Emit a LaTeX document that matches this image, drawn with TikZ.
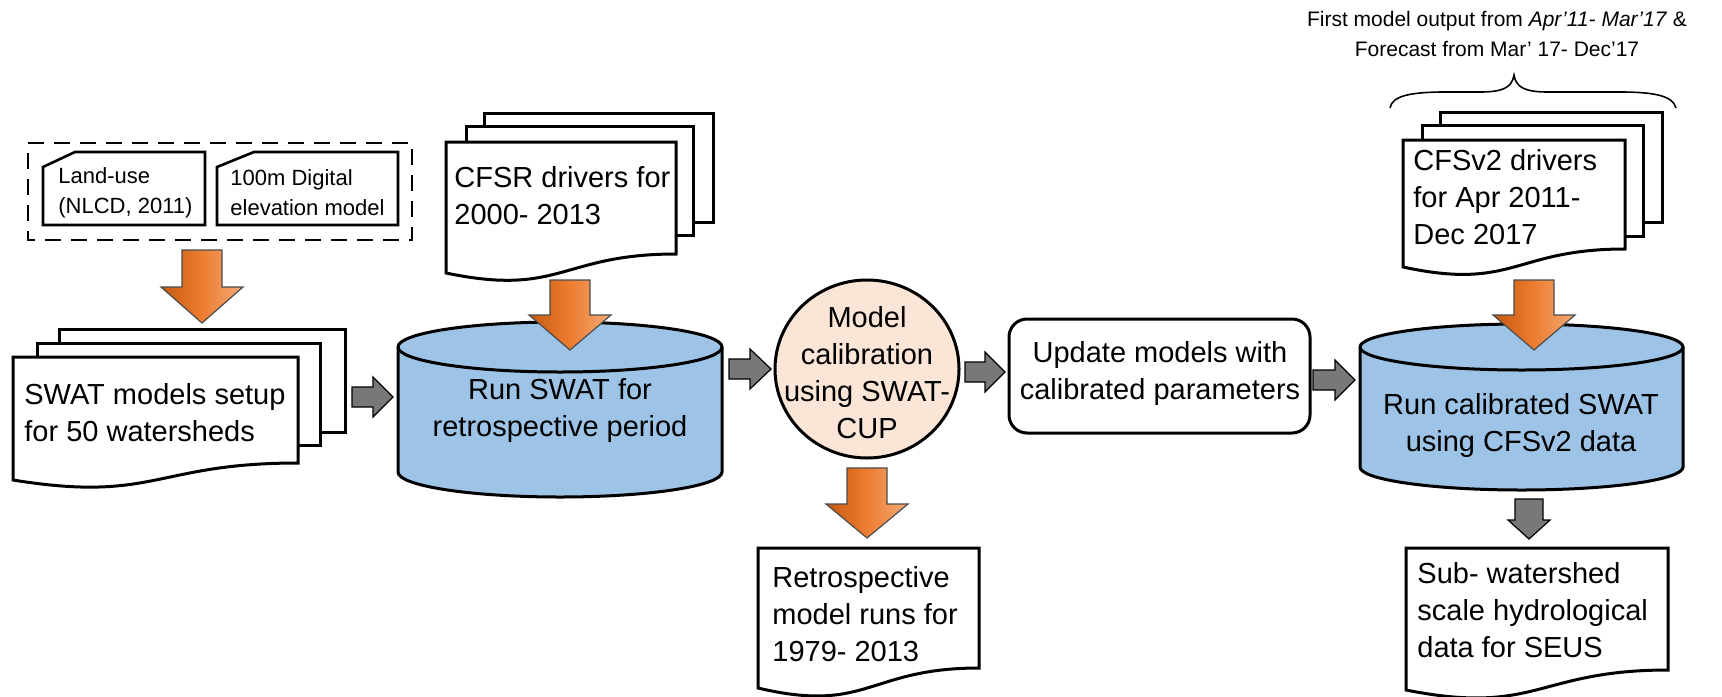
\documentclass[tikz,border=0pt]{standalone}
\usepackage{fontspec}
\setmainfont{Liberation Sans}
\usepackage{xcolor}
\usetikzlibrary{arrows.meta}
\definecolor{canblue}{RGB}{157,195,230}
\definecolor{peach}{RGB}{251,229,214}
\definecolor{arrgray}{RGB}{120,120,120}
\definecolor{orgdark}{RGB}{197,90,17}
\definecolor{orgmid}{RGB}{237,125,49}
\definecolor{orglight}{RGB}{244,170,120}

\begin{document}
\begin{tikzpicture}[x=0.5pt,y=0.5pt,yscale=-1,xscale=1,
  shapeline/.style={line width=1.5pt, line join=miter},
  grayarr/.style={draw=black, line width=0.6pt, fill=arrgray},
  orangearr/.style={draw=black!70, line width=0.6pt, left color=orgdark, right color=orglight, middle color=orgmid},
  doctext/.style={anchor=west, inner sep=0pt, align=left, font=\fontsize{14.5}{18.5}\selectfont},
  midtext/.style={inner sep=0pt, align=center, font=\fontsize{14.5}{18.5}\selectfont},
  smalltxt/.style={anchor=west, inner sep=0pt, align=left, font=\fontsize{11}{15}\selectfont}]
\useasboundingbox (0,0) rectangle (1722,696);

%Dashed group: inputs
\draw [line width=1pt, dash pattern={on 8pt off 5pt}] (28,143) -- (412,143) -- (412,240) -- (28,240) -- cycle ;
%Snip Single Corner Rectangle: land-use
\draw [line width=1.3pt, fill=white] (43,167) -- (75,152) -- (205,152) -- (205,225) -- (43,225) -- cycle ;
%Snip Single Corner Rectangle: elevation
\draw [line width=1.3pt, fill=white] (217,167) -- (254,152) -- (398,152) -- (398,225) -- (217,225) -- cycle ;

%Down Arrow: inputs to setup
\draw [orangearr] (182,250) -- (222,250) -- (222,287) -- (243,287) -- (202,323) -- (161,287) -- (182,287) -- cycle ;

%Flowchart: Multidocument (setup)
\draw [shapeline, fill=white] (59,329) rectangle (345,432) ;
\draw [shapeline, fill=white] (37,343) rectangle (320,445) ;
\draw [shapeline, fill=white] (13,357) -- (298,357) -- (298,463) .. controls (155,463) and (155,503) .. (13,480) -- cycle ;

%Right Arrow: setup to run
\draw [grayarr] (352,387) -- (373,387) -- (373,377) -- (393,397) -- (373,417) -- (373,407) -- (352,407) -- cycle ;

%Flowchart: Multidocument (CFSR)
\draw [shapeline, fill=white] (484,113) rectangle (713,222) ;
\draw [shapeline, fill=white] (466,126) rectangle (693,235) ;
\draw [shapeline, fill=white] (446,142) -- (676,142) -- (676,254) .. controls (561,254) and (561,297) .. (446,273) -- cycle ;

%Shape: Can (retrospective run)
\draw [shapeline, fill=canblue] (398,347) -- (398,472) arc [start angle=180, end angle=0, x radius=162, y radius=25] -- (722,347) arc [start angle=360, end angle=180, x radius=162, y radius=25] -- cycle ;
\draw [shapeline] (398,347) arc [start angle=180, end angle=0, x radius=162, y radius=25] ;

%Down Arrow: CFSR to run
\draw [orangearr] (550,280) -- (590,280) -- (590,315) -- (611,315) -- (570,350) -- (529,315) -- (550,315) -- cycle ;

%Right Arrow: run to calibration
\draw [grayarr] (729,359) -- (750,359) -- (750,349) -- (771,369) -- (750,389) -- (750,379) -- (729,379) -- cycle ;

%Shape: Circle (calibration)
\draw [shapeline, fill=peach] (867,369) ellipse [x radius=92, y radius=89] ;

%Right Arrow: calibration to update
\draw [grayarr] (965,362) -- (985,362) -- (985,352) -- (1005,372) -- (985,392) -- (985,382) -- (965,382) -- cycle ;

%Rounded Rect: update
\draw [shapeline, rounded corners=9pt] (1009,319) rectangle (1310,433) ;

%Right Arrow: update to calibrated run
\draw [grayarr] (1313,370) -- (1335,370) -- (1335,360) -- (1355,380) -- (1335,400) -- (1335,390) -- (1313,390) -- cycle ;

%Down Arrow: calibration to retrospective runs
\draw [orangearr] (847,468) -- (887,468) -- (887,504) -- (908,504) -- (867,538) -- (826,504) -- (847,504) -- cycle ;

%Flowchart: Document (retrospective runs)
\draw [shapeline, fill=white] (758,548) -- (979,548) -- (979,668) .. controls (868,668) and (868,714) .. (758,688) -- cycle ;

%Curly Brace
\draw [line width=0.8pt] (1390,108) .. controls (1392,96) and (1410,92) .. (1445,92) -- (1480,92) .. controls (1502,92) and (1512,88) .. (1514,75) .. controls (1516,88) and (1526,92) .. (1548,92) -- (1620,92) .. controls (1655,92) and (1673,96) .. (1676,108) ;

%Flowchart: Multidocument (CFSv2)
\draw [shapeline, fill=white] (1440,112) rectangle (1662,222) ;
\draw [shapeline, fill=white] (1422,125) rectangle (1643,236) ;
\draw [shapeline, fill=white] (1403,140) -- (1625,140) -- (1625,249) .. controls (1514,249) and (1514,291) .. (1403,267) -- cycle ;

%Shape: Can (calibrated run)
\draw [shapeline, fill=canblue] (1360,347) -- (1360,467) arc [start angle=180, end angle=0, x radius=161.5, y radius=23] -- (1683,347) arc [start angle=360, end angle=180, x radius=161.5, y radius=23] -- cycle ;
\draw [shapeline] (1360,347) arc [start angle=180, end angle=0, x radius=161.5, y radius=23] ;

%Down Arrow: CFSv2 to calibrated run
\draw [orangearr] (1514,280) -- (1554,280) -- (1554,315) -- (1575,315) -- (1534,350) -- (1493,315) -- (1514,315) -- cycle ;

%Down Arrow: calibrated run to output
\draw [grayarr] (1515,499) -- (1543,499) -- (1543,520) -- (1550,520) -- (1529,539) -- (1508,520) -- (1515,520) -- cycle ;

%Flowchart: Document (sub-watershed data)
\draw [shapeline, fill=white] (1406,548) -- (1668,548) -- (1668,670) .. controls (1537,670) and (1537,716) .. (1406,690) -- cycle ;

% Text Node
\draw (58,193) node [smalltxt] (landuse) {Land-use\\(NLCD, 2011)};
% Text Node
\draw (230,193) node [smalltxt] (dem) {100m Digital\\elevation model};
% Text Node
\draw (24,413) node [doctext] (setup) {SWAT models setup\\for 50 watersheds};
% Text Node
\draw (454,196) node [doctext] (cfsr) {CFSR drivers for\\2000- 2013};
% Text Node
\draw (560,411) node [midtext] (runswat) {Run SWAT for\\retrospective period};
% Text Node
\draw (867,373) node [midtext] (calib) {Model\\calibration\\using SWAT-\\CUP};
% Text Node
\draw (1160,373) node [midtext] (update) {Update models with\\calibrated parameters};
% Text Node
\draw (772,614) node [doctext] (retro) {Retrospective\\model runs for\\1979- 2013};
% Text Node
\draw (1497,34) node [inner sep=0pt, align=center, font=\fontsize{10.5}{15}\selectfont] (note) {First model output from \textit{Apr'11- Mar'17} \&\\Forecast from Mar' 17- Dec'17};
% Text Node
\draw (1413,197) node [doctext] (cfsv) {CFSv2 drivers\\for Apr 2011-\\Dec 2017};
% Text Node
\draw (1521,425) node [midtext] (runcal) {Run calibrated SWAT\\using CFSv2 data};
% Text Node
\draw (1417,610) node [doctext] (subws) {Sub- watershed\\scale hydrological\\data for SEUS};

\end{tikzpicture}
\end{document}
